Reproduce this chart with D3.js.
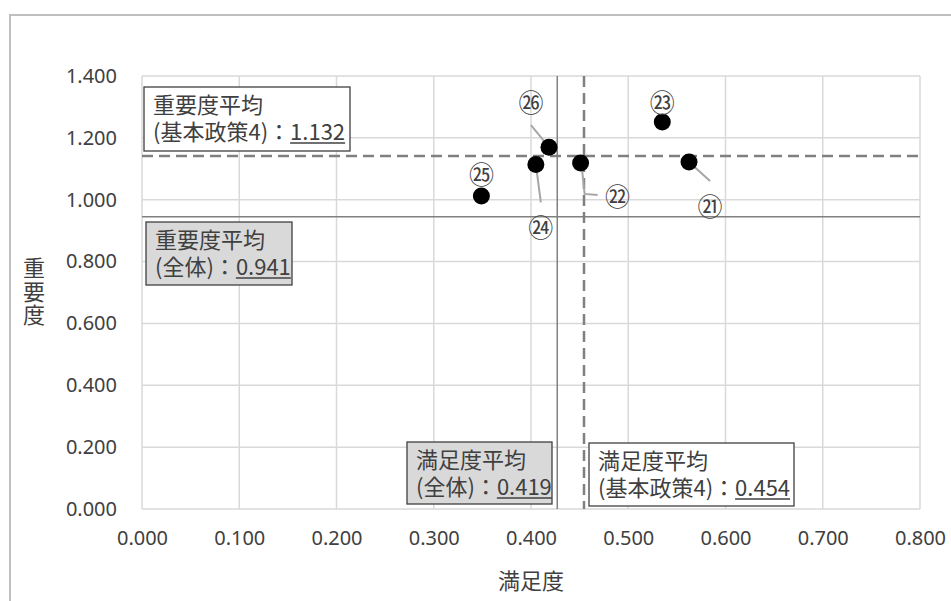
<!DOCTYPE html>
<html><head><meta charset="utf-8">
<script src="https://cdn.jsdelivr.net/npm/d3@7"></script>
<style>
html,body{margin:0;padding:0;background:#fff;}
svg{display:block;}
</style></head>
<body>
<svg id="chart" width="951" height="601"></svg>
<script>
// ---- data ----
const pointLabels = ["㉑","㉒","㉓","㉔","㉕","㉖"];
const satisfaction = [0.5625, 0.451, 0.535, 0.405, 0.349, 0.4185];
const importance  = [1.122, 1.119, 1.251, 1.114, 1.012, 1.170];
const xTicks = [0,0.1,0.2,0.3,0.4,0.5,0.6,0.7,0.8];
const yTicks = [0,0.2,0.4,0.6,0.8,1.0,1.2,1.4];
const xTitle = "満足度";
const yTitle = "重要度";
// average reference lines (position, label text as printed)
const hLineValues = [1.141, 0.945];
const hLineStyles = ["dashed","solid"];
const vLineValues = [0.4545, 0.427];
const vLineStyles = ["dashed","solid"];
const avgTitles = ["重要度平均","重要度平均","満足度平均","満足度平均"];
const avgPrefixes = ["(基本政策4)：","(全体)：","(全体)：","(基本政策4)："];
const avgValues = ["1.132","0.941","0.419","0.454"];
const avgFills = ["#ffffff","#d9d9d9","#d9d9d9","#ffffff"];

// ---- layout ----
const boxes = [
  {x:144,y:87,w:206,h:64},
  {x:146,y:222,w:146,h:63},
  {x:407,y:442,w:145,h:62},
  {x:589,y:443,w:205,h:63}
];
const labelOffsets = [[21,43],[37,32],[0,-21],[5,62],[0,-23],[-18,-46]];
const leaders = [
  [[0,0],[21,19]],
  [[1,2],[4,31],[17,32]],
  null,
  [[0,0],[5,38]],
  null,
  [[-18,-22],[0,0]]
];

const svg = d3.select("#chart");
const CJK = "'Noto Sans CJK JP','Noto Sans',sans-serif";
const LAT = "'Noto Sans','Liberation Sans',sans-serif";
const textColor = "#404040";

// outer chart border
svg.append("rect").attr("x",10).attr("y",15).attr("width",960).attr("height",620)
  .attr("fill","#fff").attr("stroke","#bfbfbf").attr("stroke-width",2);

const x = d3.scaleLinear().domain([0,0.8]).range([142,920]);
const y = d3.scaleLinear().domain([0,1.4]).range([509,76]);

// gridlines
const grid = svg.append("g");
grid.selectAll("line.v").data(xTicks).join("line")
  .attr("x1",d=>x(d)).attr("x2",d=>x(d)).attr("y1",y(1.4)).attr("y2",y(0))
  .attr("stroke","#d9d9d9").attr("stroke-width",1.5);
grid.selectAll("line.h").data(yTicks).join("line")
  .attr("y1",d=>y(d)).attr("y2",d=>y(d)).attr("x1",x(0)).attr("x2",x(0.8))
  .attr("stroke","#d9d9d9").attr("stroke-width",1.5);

// axes (labels only)
const xAxis = svg.append("g").attr("transform",`translate(0,${y(0)})`)
  .call(d3.axisBottom(x).tickValues(xTicks).tickFormat(d3.format(".3f")).tickSize(0).tickPadding(22));
xAxis.select(".domain").remove();
xAxis.selectAll("text").attr("font-family",LAT).attr("font-size",20).attr("fill",textColor);
const yAxis = svg.append("g").attr("transform",`translate(${x(0)},0)`)
  .call(d3.axisLeft(y).tickValues(yTicks).tickFormat(d3.format(".3f")).tickSize(0).tickPadding(25));
yAxis.select(".domain").remove();
yAxis.selectAll("text").attr("font-family",LAT).attr("font-size",20).attr("fill",textColor);

// axis titles
svg.append("text").attr("x",(x(0)+x(0.8))/2).attr("y",589).attr("text-anchor","middle")
  .attr("font-family",CJK).attr("font-size",22).attr("fill",textColor).text(xTitle);
svg.append("text").attr("x",34).attr("y",257)
  .attr("font-family",CJK).attr("font-size",22).attr("fill",textColor)
  .style("writing-mode","vertical-rl").style("text-orientation","upright")
  .style("letter-spacing","1.5px")
  .text(yTitle);

// reference lines
const refs = svg.append("g");
hLineValues.forEach((v,i)=>{
  refs.append("line").attr("x1",x(0)).attr("x2",x(0.8)).attr("y1",y(v)).attr("y2",y(v))
    .attr("stroke","#808080").attr("stroke-width",hLineStyles[i]==="dashed"?2.5:1.5)
    .attr("stroke-dasharray",hLineStyles[i]==="dashed"?"11,6":null);
});
vLineValues.forEach((v,i)=>{
  refs.append("line").attr("y1",y(1.4)).attr("y2",y(0)).attr("x1",x(v)).attr("x2",x(v))
    .attr("stroke","#808080").attr("stroke-width",vLineStyles[i]==="dashed"?2.5:1.5)
    .attr("stroke-dasharray",vLineStyles[i]==="dashed"?"11,6":null);
});

// leader lines
const pts = pointLabels.map((l,i)=>({label:l, sx:x(satisfaction[i]), sy:y(importance[i]), i}));
pts.forEach(p=>{
  const L = leaders[p.i];
  if(!L) return;
  svg.append("polyline").attr("points",L.map(o=>[p.sx+o[0],p.sy+o[1]].join(",")).join(" "))
    .attr("fill","none").attr("stroke","#a6a6a6").attr("stroke-width",2);
});

// points
svg.selectAll("circle.pt").data(pts).join("circle")
  .attr("cx",d=>d.sx).attr("cy",d=>d.sy).attr("r",8.5).attr("fill","#000");

// point labels
svg.selectAll("text.pl").data(pts).join("text")
  .attr("x",d=>d.sx+labelOffsets[d.i][0]).attr("y",d=>d.sy+labelOffsets[d.i][1])
  .attr("text-anchor","middle").attr("dominant-baseline","central")
  .attr("font-family",CJK).attr("font-size",25).attr("fill",textColor)
  .text(d=>d.label);

// average label boxes
boxes.forEach((b,i)=>{
  const g = svg.append("g");
  g.append("rect").attr("x",b.x).attr("y",b.y).attr("width",b.w).attr("height",b.h)
    .attr("fill",avgFills[i]).attr("stroke","#404040").attr("stroke-width",1.3);
  const t = g.append("text").attr("font-family",CJK).attr("font-size",22).attr("fill",textColor);
  t.append("tspan").attr("x",b.x+9).attr("y",b.y+26).text(avgTitles[i]);
  const pre = t.append("tspan").attr("x",b.x+9).attr("y",b.y+53).text(avgPrefixes[i]);
  const num = t.append("tspan").text(avgValues[i]);
  const pw = pre.node().getComputedTextLength();
  const nw = num.node().getComputedTextLength();
  g.append("line").attr("x1",b.x+9+pw).attr("x2",b.x+9+pw+nw).attr("y1",b.y+56).attr("y2",b.y+56)
    .attr("stroke",textColor).attr("stroke-width",1.3);
});
</script>
</body></html>
